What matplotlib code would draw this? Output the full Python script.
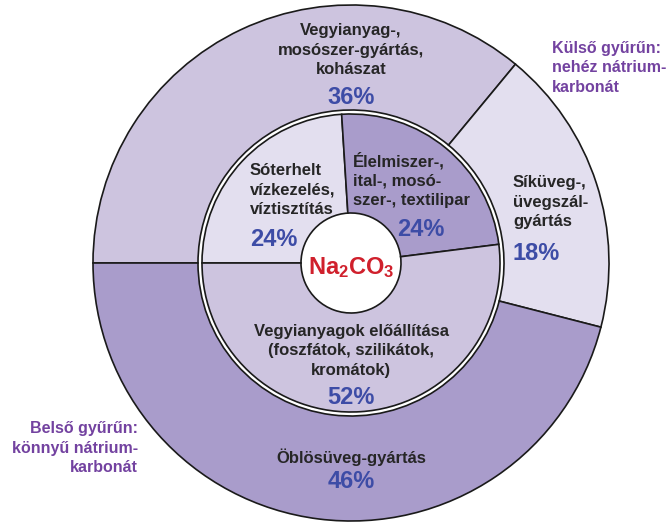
import matplotlib.pyplot as plt

plt.rcParams['mathtext.fontset'] = 'custom'
plt.rcParams['mathtext.bf'] = 'Liberation Sans:bold'
plt.rcParams['mathtext.rm'] = 'Liberation Sans'

# Data
outer_labels = ['Vegyianyag-,\nmosószer-gyártás,\nkohászat', 'Síküveg-,\nüvegszál-\ngyártás', 'Öblösüveg-gyártás']
outer_vals = [36, 18, 46]
inner_labels = ['Sóterhelt\nvízkezelés,\nvíztisztítás', 'Élelmiszer-,\nital-, mosó-\nszer-, textilipar',
                'Vegyianyagok előállítása\n(foszfátok, szilikátok,\nkromátok)']
inner_vals = [24, 24, 52]

outer_colors = ['#cdc4df', '#e3dfef', '#a99ccb']
inner_colors = ['#e3dfef', '#a99ccb', '#cdc4df']

W, H = 671, 523
fig = plt.figure(figsize=(W / 100, H / 100), dpi=100)
ax = fig.add_axes([0, 0, 1, 1])

cx, cy = 351, H - 263
edge = dict(edgecolor='#1a1a1a', linewidth=1.2)

ax.pie(outer_vals, radius=258, center=(cx, cy), colors=outer_colors, startangle=180,
       counterclock=False, wedgeprops=dict(width=258 - 153, **edge))
ax.pie(inner_vals, radius=149, center=(cx, cy), colors=inner_colors, startangle=180,
       counterclock=False, wedgeprops=dict(width=149 - 50, **edge))

ax.set_xlim(0, W)
ax.set_ylim(0, H)
ax.set_aspect('equal')
ax.axis('off')

fam = 'Liberation Sans'
lab = dict(family=fam, fontweight='bold', fontsize=12, color='#262626', linespacing=1.35)
pct = dict(family=fam, fontweight='bold', fontsize=17, color='#3d4ca6')
ann = dict(family=fam, fontweight='bold', fontsize=11.5, color='#7342a0', linespacing=1.4)


def t(x, y, s, **kw):
    ax.text(x, H - y, s, **kw)


# outer ring texts
t(351, 50, outer_labels[0], ha='center', va='center', **lab)
t(351, 97, '%d%%' % outer_vals[0], ha='center', va='center', **pct)
t(513, 202, outer_labels[1], ha='left', va='center', **lab)
t(513, 253, '%d%%' % outer_vals[1], ha='left', va='center', **pct)
t(351, 457, outer_labels[2], ha='center', va='center', **lab)
t(351, 481, '%d%%' % outer_vals[2], ha='center', va='center', **pct)

# inner ring texts
t(250, 190, inner_labels[0], ha='left', va='center', **lab)
t(250, 239, '%d%%' % inner_vals[0], ha='left', va='center', **pct)
t(353, 180, inner_labels[1], ha='left', va='center', **lab)
t(421, 229, '%d%%' % inner_vals[1], ha='center', va='center', **pct)
t(351, 351, inner_labels[2], ha='center', va='center', **lab)
t(351, 398, '%d%%' % inner_vals[2], ha='center', va='center', **pct)

# centre
t(351, 268, r'$\mathbf{Na_2CO_3}$', ha='center', va='center', fontsize=17, color='#d0202c')

# side notes
t(552, 68, 'Külső gyűrűn:\nnehéz nátrium-\nkarbonát', ha='left', va='center', **ann)
t(138, 448, 'Belső gyűrűn:\nkönnyű nátrium-\nkarbonát', ha='right', va='center', multialignment='right', **ann)

fig.savefig('out.png', dpi=100, facecolor='white')
